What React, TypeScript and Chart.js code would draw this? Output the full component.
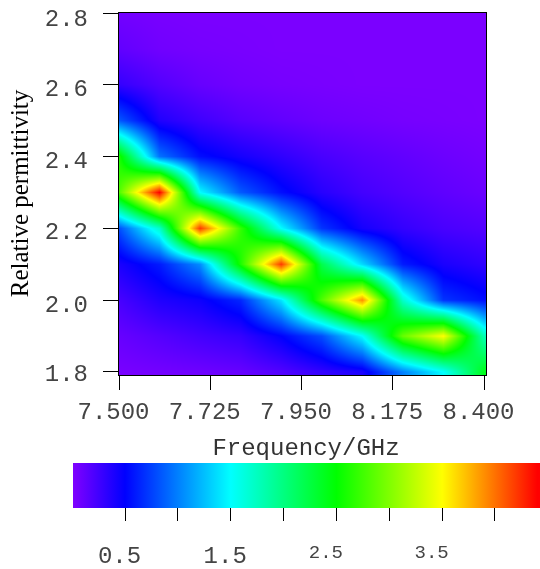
import React, { useEffect, useRef } from "react";
import { Chart, registerables } from "chart.js";

Chart.register(...registerables);

const frequencies = [7.5, 7.6, 7.7, 7.8, 7.9, 8.0, 8.1, 8.2, 8.3, 8.4];
const permittivities = [2.8, 2.7, 2.6, 2.5, 2.4, 2.3, 2.2, 2.1, 2.0, 1.9, 1.8];
const row28 = [0.05, 0.03, 0.02, 0.02, 0.02, 0.02, 0.02, 0.02, 0.02, 0.02];
const row27 = [0.12, 0.06, 0.04, 0.03, 0.02, 0.02, 0.02, 0.02, 0.02, 0.02];
const row26 = [0.3, 0.18, 0.1, 0.06, 0.04, 0.03, 0.02, 0.02, 0.02, 0.02];
const row25 = [0.85, 0.38, 0.26, 0.17, 0.12, 0.08, 0.06, 0.04, 0.03, 0.02];
const row24 = [2.6, 0.95, 0.55, 0.42, 0.32, 0.22, 0.16, 0.12, 0.08, 0.05];
const row23 = [2.8, 4.4, 1.5, 0.85, 0.55, 0.35, 0.24, 0.18, 0.13, 0.09];
const row22 = [0.8, 1.7, 4.2, 2.7, 1.5, 0.7, 0.42, 0.3, 0.22, 0.18];
const row21 = [0.4, 0.6, 1.05, 2.6, 4.2, 2.2, 1.35, 0.6, 0.4, 0.32];
const row20 = [0.22, 0.38, 0.45, 0.65, 1.4, 2.8, 3.9, 1.7, 0.7, 0.55];
const row19 = [0.1, 0.17, 0.24, 0.3, 0.5, 0.8, 1.5, 2.9, 3.5, 1.8];
const row18 = [0.03, 0.05, 0.07, 0.1, 0.18, 0.3, 0.4, 1.0, 1.5, 2.4];
const grid = [row28, row27, row26, row25, row24, row23, row22, row21, row20, row19, row18];

const xTicks = [7.5, 7.725, 7.95, 8.175, 8.4];
const yTicks = [1.8, 2.0, 2.2, 2.4, 2.6, 2.8];
const yTickShift = [3, 5, 4.5, 5, 4.5, 7];
const barTicks = [0.5, 1, 1.5, 2, 2.5, 3, 3.5, 4];
const barLabels = ["0.5", "", "1.5", "", "2.5", "", "3.5", ""];
const colorValues = [0, 0.5, 1.5, 2.5, 3.5, 4.4];
const colorRgb = [
  [128, 0, 255],
  [0, 0, 255],
  [0, 255, 255],
  [0, 255, 0],
  [255, 255, 0],
  [255, 0, 0],
];
const barMin = 0.008;
const barMax = 4.426;

function rgbFor(v: number) {
  if (v <= colorValues[0]) return colorRgb[0];
  for (let i = 1; i < colorValues.length; i++) {
    if (v <= colorValues[i]) {
      const t = (v - colorValues[i - 1]) / (colorValues[i] - colorValues[i - 1]);
      return colorRgb[i].map((c, k) => colorRgb[i - 1][k] + (c - colorRgb[i - 1][k]) * t);
    }
  }
  return colorRgb[colorRgb.length - 1];
}

const MONO = "'Liberation Mono', monospace";
const zeroPad = (s: any) => {
  s.paddingTop = 0;
  s.paddingBottom = 0;
  s.paddingLeft = 0;
  s.paddingRight = 0;
};

function shiftLabels(chart: any, axis: string, fn: (i: number) => [number, number]) {
  const items = chart.scales[axis].getLabelItems();
  items.forEach((it: any, i: number) => {
    const d = fn(i);
    it.options.translation = [it.options.translation[0] + d[0], it.options.translation[1] + d[1]];
  });
}

const heatPlugin = {
  id: "heat",
  beforeDatasetsDraw(chart: any) {
    const { ctx, chartArea: a, scales } = chart;
    const pts = chart.data.datasets[0].data;
    const nx = frequencies.length;
    const lookup = (i: number, j: number) => pts[j * nx + i].v;
    const w = Math.round(a.right - a.left);
    const h = Math.round(a.bottom - a.top);
    const off = document.createElement("canvas");
    off.width = w;
    off.height = h;
    const octx = off.getContext("2d")!;
    const img = octx.createImageData(w, h);
    const fStep = frequencies[1] - frequencies[0];
    const pStep = permittivities[0] - permittivities[1];
    for (let py = 0; py < h; py++) {
      const yv = scales.y.getValueForPixel(a.top + py + 0.5);
      let fj = (permittivities[0] - yv) / pStep;
      fj = Math.max(0, Math.min(permittivities.length - 1.0001, fj));
      const j = Math.floor(fj);
      const tj = fj - j;
      for (let px = 0; px < w; px++) {
        const xv = scales.x.getValueForPixel(a.left + px + 0.5);
        let fi = (xv - frequencies[0]) / fStep;
        fi = Math.max(0, Math.min(nx - 1.0001, fi));
        const i = Math.floor(fi);
        const ti = fi - i;
        const v =
          lookup(i, j) * (1 - ti) * (1 - tj) +
          lookup(i + 1, j) * ti * (1 - tj) +
          lookup(i, j + 1) * (1 - ti) * tj +
          lookup(i + 1, j + 1) * ti * tj;
        const c = rgbFor(v);
        const o = (py * w + px) * 4;
        img.data[o] = c[0];
        img.data[o + 1] = c[1];
        img.data[o + 2] = c[2];
        img.data[o + 3] = 255;
      }
    }
    octx.putImageData(img, 0, 0);
    ctx.drawImage(off, a.left, a.top);
    ctx.save();
    ctx.strokeStyle = "#000";
    ctx.lineWidth = 1;
    ctx.strokeRect(a.left + 0.5, a.top + 0.5, a.right - a.left, a.bottom - a.top);
    ctx.restore();
  },
  beforeDraw(chart: any) {
    if (chart.$shifted) return;
    chart.$shifted = true;
    shiftLabels(chart, "y", (i) => [0, yTickShift[i]]);
    shiftLabels(chart, "x", () => [-5.5, 0]);
    const sx = chart.scales.x;
    const orig = sx.drawTitle;
    sx.drawTitle = function () {
      chart.ctx.save();
      chart.ctx.translate(4, 0);
      orig.call(sx);
      chart.ctx.restore();
    };
  },
};

const barPlugin = {
  id: "barShift",
  beforeDraw(chart: any) {
    if (chart.$shifted) return;
    chart.$shifted = true;
    shiftLabels(chart, "x", (i) => [barTicks[i] < 2 ? -5.5 : -10.5, 0]);
  },
};

export default function App() {
  const mainRef = useRef<HTMLCanvasElement>(null);
  const barRef = useRef<HTMLCanvasElement>(null);

  useEffect(() => {
    const points: { x: number; y: number; v: number }[] = [];
    permittivities.forEach((p, j) => {
      frequencies.forEach((f, i) => points.push({ x: f, y: p, v: grid[j][i] }));
    });

    const main = new Chart(mainRef.current!, {
      type: "scatter",
      data: { datasets: [{ label: "Heat", data: points as any, pointRadius: 0 }] },
      plugins: [heatPlugin],
      options: {
        animation: false,
        responsive: false,
        layout: { padding: { top: 12, right: 54, left: 0, bottom: 0 } },
        plugins: { legend: { display: false }, tooltip: { enabled: false } },
        scales: {
          x: {
            type: "linear",
            min: 7.4975,
            max: 8.4049,
            afterBuildTicks: (s: any) => {
              s.ticks = xTicks.map((value) => ({ value }));
            },
            afterFit: (s: any) => {
              zeroPad(s);
              s.height = 88;
            },
            border: { display: false },
            grid: { drawOnChartArea: false, drawTicks: true, tickLength: 15, color: "#000" },
            ticks: {
              color: "#444",
              padding: 8,
              maxRotation: 0,
              autoSkip: false,
              font: { family: MONO, size: 24 },
              callback: (v: any) => Number(v).toFixed(3),
            },
            title: {
              display: true,
              text: "Frequency/GHz",
              color: "#333",
              font: { family: MONO, size: 24 },
              padding: { top: 0, bottom: 0 },
            },
          },
          y: {
            type: "linear",
            min: 1.7916,
            max: 2.8028,
            afterBuildTicks: (s: any) => {
              s.ticks = yTicks.map((value) => ({ value }));
            },
            afterFit: (s: any) => {
              zeroPad(s);
              s.width = 118;
            },
            border: { display: false },
            grid: { drawOnChartArea: false, drawTicks: true, tickLength: 15, color: "#000" },
            ticks: {
              color: "#444",
              padding: 15,
              autoSkip: false,
              font: { family: MONO, size: 24 },
              callback: (v: any) => Number(v).toFixed(1),
            },
            title: {
              display: true,
              text: "Relative permittivity",
              color: "#000",
              font: { family: "'Liberation Serif', serif", size: 25 },
              padding: { top: 6, bottom: 0 },
            },
          },
        },
      } as any,
    });

    const bar = new Chart(barRef.current!, {
      type: "bar",
      data: {
        labels: ["Scale"],
        datasets: [
          {
            data: [[barMin, barMax]] as any,
            categoryPercentage: 1,
            barPercentage: 1,
            backgroundColor: (c: any) => {
              const sx = c.chart.scales.x;
              if (!c.chart.chartArea || !sx) return "#000";
              const p0 = sx.getPixelForValue(barMin);
              const p1 = sx.getPixelForValue(barMax);
              const g = c.chart.ctx.createLinearGradient(p0, 0, p1, 0);
              colorValues.forEach((v, i) => {
                const t = Math.min(1, Math.max(0, (v - barMin) / (barMax - barMin)));
                g.addColorStop(t, `rgb(${colorRgb[i].join(",")})`);
              });
              return g;
            },
          },
        ],
      },
      plugins: [barPlugin],
      options: {
        indexAxis: "y",
        animation: false,
        responsive: false,
        layout: { padding: { top: 3, right: 0, left: 73, bottom: 0 } },
        plugins: { legend: { display: false }, tooltip: { enabled: false } },
        scales: {
          x: {
            type: "linear",
            min: barMin,
            max: barMax,
            afterBuildTicks: (s: any) => {
              s.ticks = barTicks.map((value) => ({ value }));
            },
            afterFit: (s: any) => {
              zeroPad(s);
              s.height = 61;
            },
            border: { display: false },
            grid: { drawOnChartArea: false, drawTicks: true, tickLength: 13, color: "#000" },
            ticks: {
              color: "#444",
              padding: 21,
              maxRotation: 0,
              autoSkip: false,
              font: (c: any) => ({ family: MONO, size: c.tick && c.tick.value >= 2 ? 19 : 24 }),
              callback: (_v: any, i: number) => barLabels[i],
            },
          },
          y: { display: false },
        },
      } as any,
    });

    return () => {
      main.destroy();
      bar.destroy();
    };
  }, []);

  return (
    <div style={{ position: "absolute", left: 0, top: 0, width: 540, height: 569, background: "#fff", overflow: "hidden" }}>
      <canvas ref={mainRef} width={540} height={463} style={{ position: "absolute", left: 0, top: 0 }} />
      <canvas ref={barRef} width={540} height={109} style={{ position: "absolute", left: 0, top: 460 }} />
    </div>
  );
}
